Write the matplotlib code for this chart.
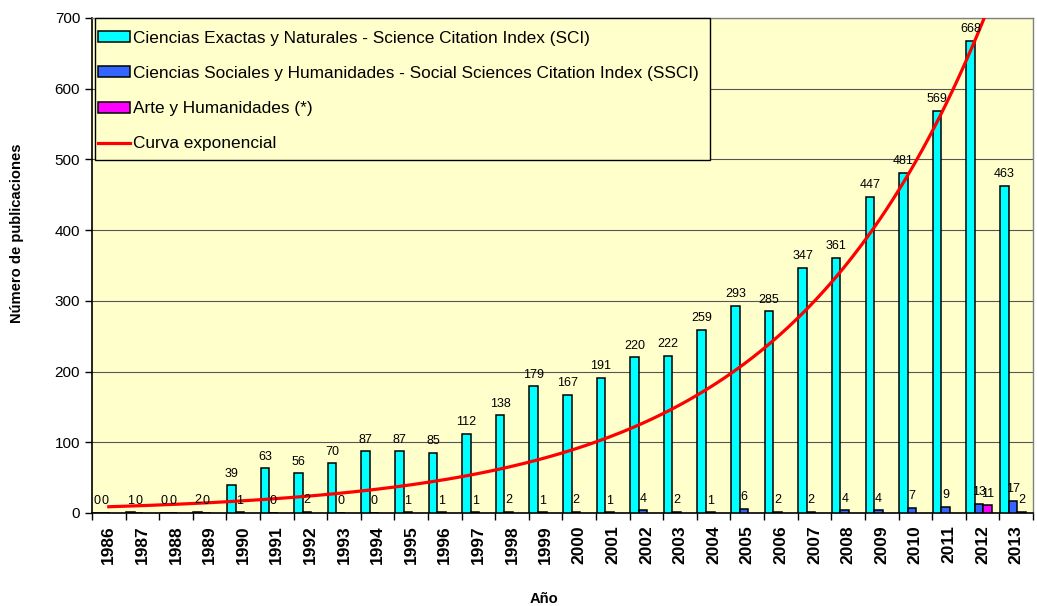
import numpy as np
import matplotlib
matplotlib.use("Agg")
import matplotlib.pyplot as plt
from matplotlib.patches import Rectangle

plt.rcParams['font.family'] = ['Liberation Sans', 'DejaVu Sans']

anios = [str(a) for a in range(1986, 2014)]
sci = [0, 1, 0, 2, 39, 63, 56, 70, 87, 87, 85, 112, 138, 179, 167, 191,
       220, 222, 259, 293, 285, 347, 361, 447, 481, 569, 668, 463]
ssci = [0, 0, 0, 0, 1, 0, 2, 0, 0, 1, 1, 1, 2, 1, 2, 1,
        4, 2, 1, 6, 2, 2, 4, 4, 7, 9, 13, 17]
# Arte y Humanidades: solo hay datos en 2012 y 2013
ah = [None] * 26 + [11, 2]

# curva exponencial (linea de tendencia) y = A * exp(B * i)
TREND_A = 8.8
TREND_B = 0.168

leg_sci = 'Ciencias Exactas y Naturales - Science Citation Index (SCI)'
leg_ssci = 'Ciencias Sociales y Humanidades - Social Sciences Citation Index (SSCI)'
leg_ah = 'Arte y Humanidades (*)'
leg_curva = 'Curva exponencial'

fig = plt.figure(figsize=(10.37, 6.06), dpi=100)
ax = fig.add_axes([0.0887, 0.1535, 0.9074, 0.8168])
ax.set_facecolor('#FFFFCC')

x = np.arange(len(anios))
w = 0.255
off = [-0.355, -0.1, 0.155]

b1 = ax.bar(x + off[0], sci, w, color='#00FFFF', edgecolor='black', linewidth=1.1, zorder=3, label=leg_sci)
b2 = ax.bar(x + off[1], ssci, w, color='#3366FF', edgecolor='black', linewidth=1.1, zorder=3, label=leg_ssci)
ah_x = [xi + off[2] for xi, v in zip(x, ah) if v is not None]
ah_v = [v for v in ah if v is not None]
b3 = ax.bar(ah_x, ah_v, w, color='#FF00FF', edgecolor='black', linewidth=1.1, zorder=3, label=leg_ah)

xs = np.linspace(0, len(anios) - 1, 300)
curva, = ax.plot(xs, TREND_A * np.exp(TREND_B * xs), color='#FF0000', lw=2.3, zorder=4, label=leg_curva)

for xi, v in zip(x, sci):
    ax.annotate(str(v), (xi + off[0], v), xytext=(0, 4), textcoords='offset points',
                ha='center', va='bottom', fontsize=9, zorder=5)
for xi, v in zip(x, ssci):
    ax.annotate(str(v), (xi + off[1], v), xytext=(0, 4), textcoords='offset points',
                ha='center', va='bottom', fontsize=9, zorder=5)
for xi, v in zip(ah_x, ah_v):
    ax.annotate(str(v), (xi, v), xytext=(0, 4), textcoords='offset points',
                ha='center', va='bottom', fontsize=9, zorder=5)

ax.set_xlim(-0.5, len(anios) - 0.5)
ax.set_ylim(0, 700)
ax.set_yticks(range(0, 701, 100))
ax.tick_params(axis='y', direction='out', length=5, labelsize=11, width=1)
ax.yaxis.grid(True, color='#555555', lw=0.8, zorder=0)
ax.set_axisbelow(True)

ax.set_xticks(x)
ax.set_xticklabels(anios, rotation=90, fontsize=12.5, fontweight='bold')
ax.set_xticks(np.arange(-0.5, len(anios)), minor=True)
ax.tick_params(axis='x', which='major', length=0, pad=9)
ax.tick_params(axis='x', which='minor', direction='out', length=5, width=1)

for s in ['left', 'bottom']:
    ax.spines[s].set_color('black')
    ax.spines[s].set_linewidth(1.2)
for s in ['top', 'right']:
    ax.spines[s].set_color('#808080')
    ax.spines[s].set_linewidth(1)

ax.set_ylabel('Número de publicaciones', fontsize=10.6, fontweight='bold')
ax.yaxis.set_label_coords(-0.0724, 0.566)
ax.set_xlabel('Año', fontsize=10.6, fontweight='bold')
ax.xaxis.set_label_coords(0.48, -0.160)

# cuadro de la leyenda
ax.add_patch(Rectangle((0.003, 0.713), 0.654, 0.288, transform=ax.transAxes,
                       facecolor='#FFFFCC', edgecolor='black', lw=1,
                       zorder=6, clip_on=False))
leg = ax.legend(handles=[b1, b2, b3, curva], loc='upper left',
                bbox_to_anchor=(0.0064, 0.974), borderaxespad=0, borderpad=0,
                fontsize=12.4, frameon=False,
                handlelength=1.85, handleheight=0.6, handletextpad=0.2,
                labelspacing=1.17)
leg.set_zorder(7)

fig.savefig('out.png', dpi=100)
